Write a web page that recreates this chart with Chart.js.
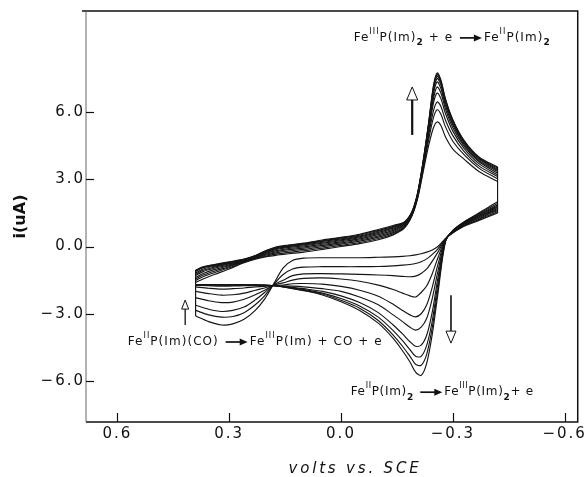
<!DOCTYPE html>
<html>
<head>
<meta charset="utf-8">
<script src="https://cdn.jsdelivr.net/npm/chart.js@4.4.1/dist/chart.umd.min.js"></script>
<style>
html, body { margin: 0; padding: 0; background: #fff; }
#wrap { width: 586px; height: 477px; position: relative; }
</style>
</head>
<body>
<div id="wrap"><canvas id="cv"></canvas></div>
<script>
// potential steps of the forward (cathodic) sweep, V vs SCE, left vertex -> right vertex
const eUpper = [0.39, 0.37, 0.34, 0.30, 0.26, 0.23, 0.20, 0.17, 0.14, 0.10, 0.05, 0.00, -0.05, -0.10, -0.14,
  -0.17, -0.19, -0.205, -0.22, -0.235, -0.248, -0.258, -0.268, -0.28, -0.30, -0.33, -0.37, -0.42]

// current (uA) on the forward sweep, one row per scan
const iUpper = [
  [-1.60,-1.45,-1.25,-1.00,-0.72,-0.56,-0.45,-0.38,-0.32,-0.25,-0.13,0.00,0.13,0.30,0.52,0.82,1.35,2.10,3.30,4.50,5.30,5.56,5.40,4.90,4.35,3.90,3.35,2.90],
  [-1.52,-1.35,-1.17,-0.95,-0.70,-0.54,-0.42,-0.33,-0.26,-0.19,-0.07,0.05,0.18,0.36,0.57,0.86,1.38,2.15,3.40,4.75,5.75,6.10,5.90,5.35,4.70,4.10,3.50,3.02],
  [-1.45,-1.27,-1.10,-0.90,-0.68,-0.52,-0.38,-0.27,-0.20,-0.13,-0.01,0.11,0.24,0.42,0.62,0.90,1.40,2.20,3.50,4.95,6.05,6.45,6.25,5.65,4.95,4.25,3.60,3.12],
  [-1.38,-1.20,-1.03,-0.86,-0.66,-0.50,-0.34,-0.22,-0.14,-0.07,0.05,0.16,0.29,0.47,0.67,0.93,1.42,2.22,3.55,5.10,6.40,6.85,6.60,5.95,5.15,4.38,3.70,3.20],
  [-1.30,-1.12,-0.97,-0.82,-0.64,-0.48,-0.30,-0.17,-0.09,-0.02,0.10,0.21,0.34,0.53,0.72,0.97,1.45,2.25,3.60,5.20,6.60,7.12,6.85,6.15,5.30,4.48,3.78,3.28],
  [-1.24,-1.06,-0.92,-0.78,-0.62,-0.46,-0.27,-0.12,-0.04,0.03,0.15,0.26,0.39,0.58,0.77,1.00,1.47,2.28,3.65,5.30,6.80,7.35,7.05,6.30,5.42,4.56,3.84,3.35],
  [-1.18,-1.00,-0.88,-0.75,-0.60,-0.44,-0.24,-0.08,0.00,0.07,0.19,0.30,0.43,0.63,0.82,1.03,1.49,2.30,3.70,5.38,6.95,7.50,7.20,6.42,5.50,4.62,3.90,3.40],
  [-1.12,-0.95,-0.85,-0.72,-0.58,-0.42,-0.21,-0.05,0.03,0.10,0.23,0.34,0.47,0.68,0.86,1.06,1.51,2.32,3.72,5.44,7.05,7.60,7.30,6.50,5.57,4.67,3.94,3.45],
  [-1.08,-0.92,-0.82,-0.70,-0.57,-0.41,-0.19,-0.02,0.05,0.13,0.26,0.38,0.51,0.72,0.90,1.08,1.53,2.34,3.75,5.48,7.12,7.68,7.37,6.56,5.62,4.71,3.97,3.50],
  [-1.05,-0.90,-0.80,-0.68,-0.56,-0.40,-0.17,0.00,0.07,0.15,0.29,0.41,0.55,0.76,0.94,1.10,1.55,2.36,3.78,5.52,7.18,7.75,7.43,6.60,5.66,4.74,4.00,3.55]
]

// potential steps of the return (anodic) sweep, right vertex -> left vertex
const eLower = [-0.42, -0.39, -0.36, -0.33, -0.30, -0.28, -0.26, -0.245, -0.23, -0.215, -0.20, -0.185, -0.165,
  -0.14, -0.10, -0.05, 0.00, 0.05, 0.10, 0.13, 0.155, 0.18, 0.205, 0.23, 0.26, 0.29, 0.32, 0.355, 0.39]

const iLower = [
  [1.50,1.30,1.10,0.90,0.60,0.35,0.00,-0.15,-0.25,-0.32,-0.37,-0.41,-0.44,-0.46,-0.48,-0.50,-0.50,-0.50,-0.52,-0.62,-0.95,-1.65,-2.35,-2.85,-3.25,-3.45,-3.50,-3.35,-3.10],
  [1.55,1.35,1.14,0.93,0.62,0.34,-0.10,-0.35,-0.55,-0.68,-0.76,-0.80,-0.83,-0.86,-0.89,-0.90,-0.90,-0.90,-0.92,-1.00,-1.25,-1.68,-2.20,-2.60,-2.95,-3.12,-3.15,-3.05,-2.85],
  [1.60,1.40,1.18,0.96,0.64,0.33,-0.25,-0.65,-1.00,-1.20,-1.32,-1.35,-1.33,-1.30,-1.27,-1.24,-1.22,-1.21,-1.22,-1.30,-1.50,-1.70,-2.05,-2.38,-2.70,-2.85,-2.90,-2.80,-2.62],
  [1.65,1.44,1.22,0.99,0.66,0.32,-0.50,-1.20,-1.75,-2.05,-2.25,-2.20,-2.08,-1.92,-1.72,-1.55,-1.45,-1.40,-1.42,-1.50,-1.62,-1.72,-1.95,-2.15,-2.35,-2.48,-2.50,-2.42,-2.28],
  [1.70,1.48,1.25,1.01,0.67,0.30,-0.80,-1.80,-2.60,-3.00,-3.14,-3.05,-2.85,-2.58,-2.22,-1.95,-1.78,-1.68,-1.65,-1.66,-1.72,-1.74,-1.85,-1.95,-2.08,-2.15,-2.17,-2.10,-2.00],
  [1.75,1.52,1.28,1.03,0.68,0.28,-1.10,-2.30,-3.20,-3.60,-3.73,-3.60,-3.35,-3.05,-2.60,-2.25,-2.00,-1.88,-1.80,-1.77,-1.76,-1.74,-1.78,-1.80,-1.85,-1.88,-1.90,-1.86,-1.80],
  [1.80,1.56,1.31,1.05,0.69,0.26,-1.40,-2.90,-3.95,-4.40,-4.45,-4.25,-3.90,-3.50,-2.95,-2.50,-2.20,-2.00,-1.88,-1.82,-1.78,-1.75,-1.74,-1.74,-1.75,-1.76,-1.77,-1.75,-1.73],
  [1.85,1.60,1.34,1.07,0.70,0.24,-1.65,-3.30,-4.40,-4.90,-4.90,-4.60,-4.20,-3.75,-3.15,-2.65,-2.32,-2.08,-1.92,-1.85,-1.79,-1.75,-1.73,-1.72,-1.72,-1.72,-1.72,-1.72,-1.71],
  [1.92,1.65,1.37,1.09,0.71,0.22,-1.90,-3.60,-4.80,-5.30,-5.25,-4.90,-4.45,-3.95,-3.30,-2.75,-2.40,-2.12,-1.95,-1.87,-1.80,-1.75,-1.72,-1.71,-1.71,-1.71,-1.71,-1.71,-1.70],
  [2.00,1.70,1.40,1.10,0.72,0.20,-2.10,-3.90,-5.20,-5.75,-5.60,-5.15,-4.65,-4.10,-3.42,-2.85,-2.46,-2.16,-1.97,-1.88,-1.80,-1.75,-1.72,-1.71,-1.70,-1.70,-1.70,-1.70,-1.70]
]

const xTicks = [0.6, 0.3, 0.0, -0.3, -0.6]
const yTicks = [6, 3, 0, -3, -6]

// reaction labels: [text, kind]  kind: '' normal, 'sup', 'sub', 'arrow'
const lblTop = [['Fe',''],['III','sup'],['P(Im)',''],['2','sub'],[' + e ',''],['','arrow'],['Fe',''],['II','sup'],['P(Im)',''],['2','sub']]
const lblMid = [['Fe',''],['II','sup'],['P(Im)(CO) ',''],['','arrow'],['Fe',''],['III','sup'],['P(Im) + CO + e','']]
const lblBot = [['Fe',''],['II','sup'],['P(Im)',''],['2','sub'],[' ',''],['','arrow'],['Fe',''],['III','sup'],['P(Im)',''],['2','sub'],['+ e','']]

function fmt(v) {
  return v.toFixed(1).replace('-', '\u2212')
}

function lineSet(pts, tension) {
  return {
    data: pts,
    showLine: true,
    borderColor: '#151515',
    borderWidth: 1.15,
    pointRadius: 0,
    tension: tension,
    spanGaps: false,
    fill: false
  }
}

// each scan: forward branch, return branch, and the two vertical jumps at the switching potentials
var datasets = []
var jumps = []
iUpper.forEach(function (up, k) {
  var lo = iLower[k]
  datasets.push(lineSet(eUpper.map(function (e, j) { return { x: e, y: up[j] } }), 0.3))
  datasets.push(lineSet(eLower.map(function (e, j) { return { x: e, y: lo[j] } }), 0.3))
  jumps.push({ x: eUpper[eUpper.length - 1], y: up[up.length - 1] }, { x: eLower[0], y: lo[0] }, { x: 0, y: null })
  jumps.push({ x: eLower[eLower.length - 1], y: lo[lo.length - 1] }, { x: eUpper[0], y: up[0] }, { x: 0, y: null })
})
datasets.push(lineSet(jumps, 0))

function drawChem(ctx, parts, x, y, width) {
  var fonts = { '': '12px "DejaVu Sans"', sup: '8px "DejaVu Sans"', sub: 'bold 9px "DejaVu Sans"' }
  var arrowW = 26
  ctx.save()
  ctx.fillStyle = '#111'
  ctx.strokeStyle = '#111'
  ctx.textBaseline = 'middle'
  ctx.letterSpacing = '0px'
  var nat = 0, chars = 0, widths = []
  parts.forEach(function (p) {
    if (p[1] === 'arrow') { widths.push(arrowW); nat += arrowW; return }
    ctx.font = fonts[p[1]]
    var w = ctx.measureText(p[0]).width
    widths.push(w); nat += w; chars += p[0].length
  })
  var sp = Math.max(0, (width - nat) / chars)
  ctx.letterSpacing = sp + 'px'
  var cx = x
  parts.forEach(function (p, i) {
    if (p[1] === 'arrow') {
      ctx.lineWidth = 1.7
      ctx.beginPath(); ctx.moveTo(cx + 2, y); ctx.lineTo(cx + arrowW - 8, y); ctx.stroke()
      ctx.beginPath(); ctx.moveTo(cx + arrowW - 10, y - 3.5); ctx.lineTo(cx + arrowW - 2, y); ctx.lineTo(cx + arrowW - 10, y + 3.5); ctx.closePath(); ctx.fill()
      cx += arrowW
      return
    }
    ctx.font = fonts[p[1]]
    var dy = p[1] === 'sup' ? -6 : (p[1] === 'sub' ? 5 : 0)
    ctx.fillText(p[0], cx, y + dy)
    cx += widths[i] + p[0].length * sp
  })
  ctx.restore()
}

// hollow block arrow, tip at (x, yTip)
function hollowArrow(ctx, x, yTail, yTip, headLen, headW, shaftW) {
  var dir = yTip < yTail ? 1 : -1
  var yBase = yTip + dir * headLen
  ctx.save()
  ctx.strokeStyle = '#111'
  ctx.lineWidth = shaftW
  ctx.beginPath(); ctx.moveTo(x, yTail); ctx.lineTo(x, yBase); ctx.stroke()
  ctx.lineWidth = 1
  ctx.fillStyle = '#fff'
  ctx.beginPath()
  ctx.moveTo(x, yTip)
  ctx.lineTo(x - headW / 2, yBase)
  ctx.lineTo(x + headW / 2, yBase)
  ctx.closePath()
  ctx.fill(); ctx.stroke()
  ctx.restore()
}

function fitText(ctx, txt, font, cx, cy, width, rot) {
  ctx.save()
  ctx.font = font
  ctx.letterSpacing = '0px'
  var w = ctx.measureText(txt).width
  var sp = Math.max(0, (width - w) / txt.length)
  ctx.letterSpacing = sp + 'px'
  ctx.translate(cx, cy)
  if (rot) ctx.rotate(rot)
  ctx.textAlign = 'left'
  ctx.textBaseline = 'middle'
  ctx.fillStyle = '#111'
  ctx.fillText(txt, -width / 2, 0)
  ctx.restore()
}

const decor = {
  id: 'decor',
  beforeDraw: function (chart) {
    chart.ctx.letterSpacing = '2px' // wide lettering of the tick labels
  },
  afterDraw: function (chart) {
    var ctx = chart.ctx, a = chart.chartArea
    var xs = chart.scales.x, ys = chart.scales.y
    ctx.save()
    ctx.letterSpacing = '0px'
    ctx.strokeStyle = '#111'
    // frame
    ctx.lineWidth = 1.5
    ctx.beginPath()
    ctx.moveTo(a.left - 4, a.top); ctx.lineTo(a.right, a.top); ctx.lineTo(a.right, a.bottom); ctx.lineTo(a.left, a.bottom)
    ctx.stroke()
    ctx.lineWidth = 1
    ctx.strokeStyle = '#666'
    ctx.beginPath(); ctx.moveTo(a.left, a.top); ctx.lineTo(a.left, a.bottom); ctx.stroke()
    // inward ticks
    ctx.strokeStyle = '#111'
    ctx.lineWidth = 1.2
    xTicks.forEach(function (v) {
      var px = Math.round(xs.getPixelForValue(v)) + 0.5
      ctx.beginPath(); ctx.moveTo(px, a.bottom); ctx.lineTo(px, a.bottom - 9); ctx.stroke()
    })
    yTicks.forEach(function (v) {
      var py = Math.round(ys.getPixelForValue(v)) + 0.5
      ctx.beginPath(); ctx.moveTo(a.left, py); ctx.lineTo(a.left + 8, py); ctx.stroke()
    })
    ctx.restore()

    // arrows showing growth / decay with scan number
    hollowArrow(ctx, xs.getPixelForValue(-0.191), ys.getPixelForValue(4.98), ys.getPixelForValue(7.12), 13, 11, 2.2)
    hollowArrow(ctx, xs.getPixelForValue(0.418), ys.getPixelForValue(-3.5), ys.getPixelForValue(-2.39), 9, 7, 1.3)
    hollowArrow(ctx, xs.getPixelForValue(-0.295), ys.getPixelForValue(-2.17), ys.getPixelForValue(-4.31), 12, 10, 1.6)

    drawChem(ctx, lblTop, xs.getPixelForValue(-0.034), ys.getPixelForValue(9.31), 197)
    drawChem(ctx, lblMid, xs.getPixelForValue(0.572), ys.getPixelForValue(-4.26), 255)
    drawChem(ctx, lblBot, xs.getPixelForValue(-0.026), ys.getPixelForValue(-6.5), 183)

    // axis titles
    fitText(ctx, 'i(uA)', 'bold 16px "DejaVu Sans"', 21, (a.top + a.bottom) / 2, 44, -Math.PI / 2)
    fitText(ctx, 'volts vs. SCE', 'italic 15px "DejaVu Sans"', 355, 469, 133, 0)
  }
}

new Chart(document.getElementById('cv'), {
  type: 'scatter',
  data: { datasets: datasets },
  options: {
    responsive: true,
    maintainAspectRatio: false,
    animation: false,
    layout: { padding: { left: 0, right: 4, top: 11, bottom: 0 } },
    plugins: { legend: { display: false }, tooltip: { enabled: false } },
    scales: {
      x: {
        type: 'linear',
        reverse: true,
        min: -0.635,
        max: 0.684,
        afterBuildTicks: function (s) { s.ticks = xTicks.map(function (v) { return { value: v } }) },
        afterFit: function (s) { s.height = 55 },
        grid: { display: false, drawTicks: false },
        border: { display: false },
        ticks: {
          color: '#111',
          font: { family: 'DejaVu Sans', size: 15 },
          padding: 3,
          maxRotation: 0,
          autoSkip: false,
          callback: function (v) { return fmt(v) }
        }
      },
      y: {
        type: 'linear',
        min: -7.83,
        max: 10.51,
        afterBuildTicks: function (s) { s.ticks = yTicks.map(function (v) { return { value: v } }) },
        afterFit: function (s) { s.width = 86 },
        grid: { display: false, drawTicks: false },
        border: { display: false },
        ticks: {
          color: '#111',
          font: { family: 'DejaVu Sans', size: 15 },
          padding: 1,
          autoSkip: false,
          callback: function (v) { return fmt(v) }
        }
      }
    }
  },
  plugins: [decor]
})
</script>
</body>
</html>
